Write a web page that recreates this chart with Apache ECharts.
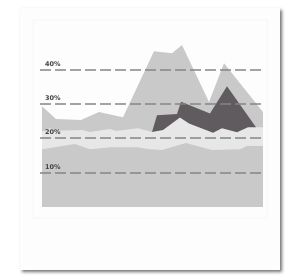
<!DOCTYPE html>
<html>
<head>
<meta charset="utf-8">
<script src="https://cdn.jsdelivr.net/npm/echarts@6/dist/echarts.min.js"></script>
<style>
  html, body { margin: 0; padding: 0; background: #fff; }
  #chart { width: 294px; height: 278px; }
</style>
</head>
<body>
<div id="chart"></div>
<script>
// x positions (irregular spacing), values in %
const topX = [0, 1.4, 3.9, 5.7, 8.1, 11.2, 13.0, 14.0, 16.7, 18.2, 22.1];
const topValues = [29.3, 25.6, 25.3, 27.6, 26.1, 45.3, 44.7, 47.1, 30.5, 41.8, 27.6];

const darkX = [11.0, 11.5, 13.5, 13.9, 16.8, 18.5, 21.4];
const darkValues = [21.8, 26.7, 27.0, 30.6, 27.2, 35.1, 23.2];

const lightX = [0, 0.8, 1.5, 4.0, 4.8, 6.8, 7.4, 9.6, 11.0, 12.1, 13.8, 14.7, 17.1, 18.0, 19.5, 20.6, 22.1];
const lightValues = [21.9, 22.9, 22.2, 22.4, 21.8, 22.7, 22.1, 22.9, 21.8, 22.4, 26.0, 24.3, 21.6, 22.9, 21.7, 23.2, 23.2];

const baseX = [0, 3.3, 4.8, 6.8, 9.5, 10.8, 12.0, 14.4, 17.0, 19.8, 20.5, 22.1];
const baseValues = [16.8, 18.3, 16.8, 17.4, 17.4, 16.8, 16.6, 18.6, 16.6, 16.8, 17.7, 17.7];

const tickValues = [10, 20, 30, 40];

const pairs = (xs, ys) => xs.map((x, i) => [x, ys[i]]);

const chart = echarts.init(document.getElementById('chart'));

// 每一层都是从0开始的面积，后画的盖住前面的
function layer (xs, ys, color) {
  return {
    type: 'line',
    data: pairs(xs, ys),
    symbol: 'none',
    silent: true,
    lineStyle: { width: 0 },
    areaStyle: { color: color, opacity: 1 }
  };
}

const baseLayer = layer(baseX, baseValues, '#c9c9c9');
baseLayer.markLine = {
  silent: true,
  symbol: 'none',
  lineStyle: { color: '#858585', width: 1.5, type: [11, 4] },
  label: {
    position: 'insideStartTop',
    formatter: p => p.value + '%',
    color: '#444',
    fontSize: 6.5,
    fontWeight: 'bold',
    fontFamily: 'DejaVu Sans',
    distance: [5, 2]
  },
  data: tickValues.map(v => ({ yAxis: v }))
};

chart.setOption({
  animation: false,
  backgroundColor: '#ffffff',
  graphic: [
    {
      type: 'rect',
      z: -10,
      shape: { x: 20, y: 8, width: 260, height: 262 },
      style: {
        fill: '#fdfdfd',
        shadowColor: 'rgba(0,0,0,0.55)',
        shadowBlur: 3,
        shadowOffsetX: 2,
        shadowOffsetY: 2
      }
    },
    {
      type: 'rect',
      z: -9,
      shape: { x: 33, y: 20, width: 234, height: 198 },
      style: { fill: 'none', stroke: '#f6f6f6', lineWidth: 1 }
    }
  ],
  grid: { left: 40, right: 29, top: 35, bottom: 71 },
  xAxis: { type: 'value', min: -0.2, max: 22.3, show: false },
  yAxis: { type: 'value', min: 0, max: 50, show: false },
  series: [
    layer(topX, topValues, '#c9c9c9'),
    layer(darkX, darkValues, '#5f5b5f'),
    layer(lightX, lightValues, '#e7e7e7'),
    baseLayer
  ]
});
</script>
</body>
</html>
